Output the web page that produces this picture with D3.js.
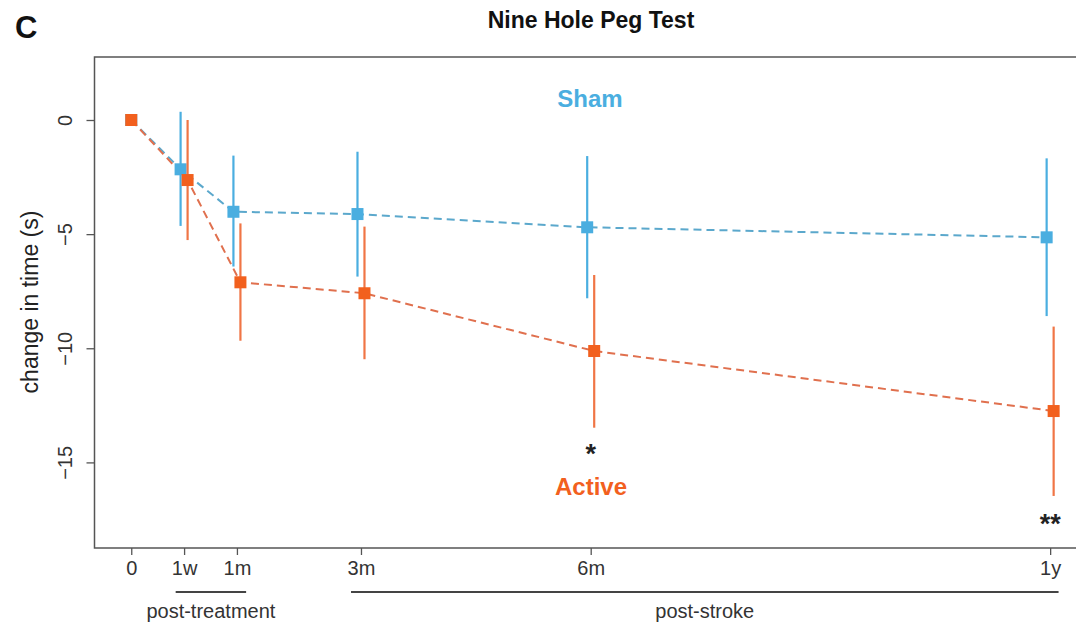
<!DOCTYPE html>
<html>
<head>
<meta charset="utf-8">
<script src="https://cdn.jsdelivr.net/npm/d3@7"></script>
<style>
  html, body { margin: 0; padding: 0; background: #fff; }
  svg { display: block; font-family: "Liberation Sans", Arial, Helvetica, sans-serif; }
</style>
</head>
<body>
<svg id="chart" width="1076" height="625"></svg>
<script>
// ---- data ----
const timeLabels = ["0", "1w", "1m", "3m", "6m", "1y"];
const timeMonths = [0, 0.69, 1.38, 3, 6, 12];
const shamMean   = [0, -2.16, -4.02, -4.12, -4.70, -5.14];
const shamHi     = [0,  0.36, -1.56, -1.39, -1.58, -1.68];
const shamLo     = [0, -4.64, -6.42, -6.86, -7.81, -8.59];
const activeMean = [0, -2.63, -7.11, -7.59, -10.12, -12.75];
const activeHi   = [0,  0.00, -4.53, -4.67, -6.79, -9.05];
const activeLo   = [0, -5.26, -9.67, -10.48, -13.48, -16.47];
const yTicks = [0, -5, -10, -15];
const periods = [
  { label: "post-treatment", from: 0.58, to: 1.50 },
  { label: "post-stroke", from: 2.87, to: 12.11 }
];
const significance = [
  { month: 6, value: -14.55, text: "*" },
  { month: 12, value: -17.6, text: "**" }
];

// ---- layout ----
const svg = d3.select("#chart");
const x = d3.scaleLinear().domain([-0.48, 12.48]).range([94.5, 1086.9]);
const y = d3.scaleLinear().domain([-18.75, 2.76]).range([548, 57]);
const axisColor = "#555";
const shamColor = "#4aaee0";
const shamLine = "#5ba8cc";
const activeColor = "#f2601e";
const activeBar = "#f07545";
const activeLine = "#e0704e";

// title & panel letter
svg.append("text").attr("x", 15).attr("y", 38).attr("font-size", 31).attr("font-weight", "bold")
  .attr("fill", "#111").text("C");
svg.append("text").attr("x", 591).attr("y", 28).attr("text-anchor", "middle")
  .attr("font-size", 23).attr("font-weight", "bold").attr("fill", "#111").text("Nine Hole Peg Test");

// box (left, top, bottom; right is off-canvas)
svg.append("rect").attr("x", x.range()[0]).attr("y", 57)
  .attr("width", x.range()[1] - x.range()[0]).attr("height", 548 - 57)
  .attr("fill", "none").attr("stroke", axisColor).attr("stroke-width", 1.5);

// y axis
const yAxis = d3.axisLeft(y).tickValues(yTicks).tickSize(8).tickFormat(d3.format("d"));
const gy = svg.append("g").attr("transform", `translate(${x.range()[0]},0)`).call(yAxis);
gy.select(".domain").remove();
gy.selectAll("line").attr("stroke", axisColor).attr("stroke-width", 1.3);
gy.selectAll("text").attr("font-size", 20).attr("fill", "#333")
  .attr("x", null).attr("dy", "0.35em").attr("text-anchor", "middle")
  .attr("transform", "translate(-30,0) rotate(-90)");

// y title
svg.append("text").attr("transform", "translate(38,302) rotate(-90)")
  .attr("text-anchor", "middle").attr("font-size", 23).attr("fill", "#222")
  .text("change in time (s)");

// x axis
const xAxis = d3.axisBottom(x).tickValues(timeMonths).tickSize(7).tickPadding(6)
  .tickFormat((d, i) => timeLabels[i]);
const gx = svg.append("g").attr("transform", "translate(0,548)").call(xAxis);
gx.select(".domain").remove();
gx.selectAll("line").attr("stroke", axisColor).attr("stroke-width", 1.3);
gx.selectAll("text").attr("font-size", 20).attr("fill", "#333");

// period brackets
periods.forEach(p => {
  svg.append("line").attr("x1", x(p.from)).attr("x2", x(p.to)).attr("y1", 592).attr("y2", 592)
    .attr("stroke", "#444").attr("stroke-width", 2);
  svg.append("text").attr("x", (x(p.from) + x(p.to)) / 2).attr("y", 618)
    .attr("text-anchor", "middle").attr("font-size", 20).attr("fill", "#333").text(p.label);
});

// series
function drawSeries(mean, lo, hi, off, lineColor) {
  const pts = timeMonths.map((m, i) => ({
    px: x(m) + (m > 0 ? off : 0), m: mean[i], lo: lo[i], hi: hi[i]
  }));
  const line = d3.line().x(d => d.px).y(d => y(d.m));
  svg.append("path").datum(pts).attr("d", line).attr("fill", "none")
    .attr("stroke", lineColor).attr("stroke-width", 2).attr("stroke-dasharray", "8,5");
  return pts;
}
function drawMarks(pts, barColor, markColor) {
  svg.append("g").selectAll("line").data(pts.filter(d => d.lo !== d.hi)).join("line")
    .attr("x1", d => d.px).attr("x2", d => d.px)
    .attr("y1", d => y(d.hi)).attr("y2", d => y(d.lo))
    .attr("stroke", barColor).attr("stroke-width", 2.2);
  svg.append("g").selectAll("rect").data(pts).join("rect")
    .attr("x", d => d.px - 6).attr("y", d => y(d.m) - 6)
    .attr("width", 12).attr("height", 12).attr("fill", markColor);
}
const shamPts = drawSeries(shamMean, shamLo, shamHi, -3.5, shamLine);
const activePts = drawSeries(activeMean, activeLo, activeHi, 3.5, activeLine);
drawMarks(shamPts, shamColor, shamColor);
drawMarks(activePts, activeBar, activeColor);

// series labels
svg.append("text").attr("x", 590).attr("y", 107).attr("text-anchor", "middle")
  .attr("font-size", 24).attr("font-weight", "bold").attr("fill", shamColor).text("Sham");
svg.append("text").attr("x", 591).attr("y", 495).attr("text-anchor", "middle")
  .attr("font-size", 24).attr("font-weight", "bold").attr("fill", activeColor).text("Active");

// significance markers
svg.append("g").selectAll("text").data(significance).join("text")
  .attr("x", d => x(d.month)).attr("y", d => y(d.value) + 11)
  .attr("text-anchor", "middle").attr("font-size", 27).attr("font-weight", "bold").attr("fill", "#222")
  .text(d => d.text);
</script>
</body>
</html>
